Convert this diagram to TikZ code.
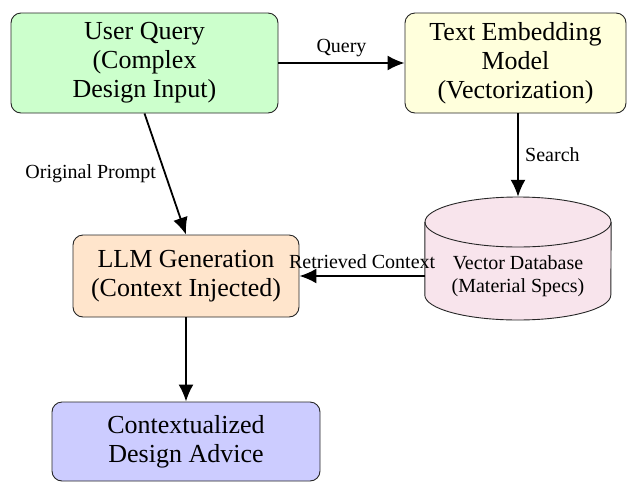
\documentclass[tikz,border=0pt]{standalone}
\usepackage{fontspec}
\setmainfont{Liberation Serif}
\usetikzlibrary{arrows.meta}

\definecolor{qgreen}{RGB}{204,255,204}
\definecolor{embyellow}{RGB}{255,255,220}
\definecolor{llmorange}{RGB}{255,229,204}
\definecolor{advblue}{RGB}{204,204,255}
\definecolor{dbpink}{RGB}{248,228,236}

\tikzset{
  box/.style={draw=black!85, line width=0.9pt, rounded corners=10pt, align=center,
    font=\fontsize{26}{29}\selectfont, inner sep=0pt},
  flow/.style={line width=1.8pt, -{Latex[length=17pt,width=15pt]}},
  lbl/.style={font=\fontsize{20}{23}\selectfont},
  dbtext/.style={align=center, font=\fontsize{20}{23}\selectfont},
}

\begin{document}
\begin{tikzpicture}[x=1pt, y=-1pt]
  \useasboundingbox (0,0) rectangle (627,483);

  % process boxes
  \node[box, fill=qgreen, minimum width=267pt, minimum height=100pt] (query) at (144.5,63)
    {User Query\\(Complex\\Design Input)};
  \node[box, fill=embyellow, minimum width=221pt, minimum height=100pt] (embed) at (515.5,63)
    {Text Embedding\\Model\\(Vectorization)};
  \node[box, fill=llmorange, minimum width=226pt, minimum height=82pt] (llm) at (186,276)
    {LLM Generation\\(Context Injected)};
  \node[box, fill=advblue, minimum width=268pt, minimum height=79pt] (advice) at (186,441.5)
    {Contextualized\\Design Advice};

  % vector database drawn as a cylinder
  \node[minimum width=186pt, minimum height=123pt, inner sep=0pt] (db) at (518,258.5) {};
  \fill[dbpink] (db.west |- 0,222) -- (db.west |- 0,295)
    arc[start angle=180, end angle=360, x radius=93pt, y radius=25pt]
    -- (db.east |- 0,222) arc[start angle=0, end angle=180, x radius=93pt, y radius=25pt] -- cycle;
  \draw[black!85, line width=0.9pt] (db.west |- 0,222) -- (db.west |- 0,295)
    arc[start angle=180, end angle=360, x radius=93pt, y radius=25pt]
    -- (db.east |- 0,222);
  \draw[black!85, line width=0.9pt] (518,222) ellipse[x radius=93pt, y radius=25pt];
  \node[dbtext] (dblabel) at (518,276) {Vector Database\\(Material Specs)};

  % connectors
  \draw[flow] (query.east) -- node[lbl, above, yshift=2pt] {Query} (embed.west);
  \draw[flow] (db.north |- embed.south) -- node[lbl, right, xshift=3pt] {Search} (db.north);
  \draw[flow] (query.south) -- node[lbl, left, xshift=-5pt] {Original Prompt} (llm.north);
  \draw[flow] (db.west |- llm.east) -- node[lbl, above, yshift=3pt] {Retrieved Context} (llm.east);
  \draw[flow] (llm.south) -- (advice.north);
\end{tikzpicture}
\end{document}
